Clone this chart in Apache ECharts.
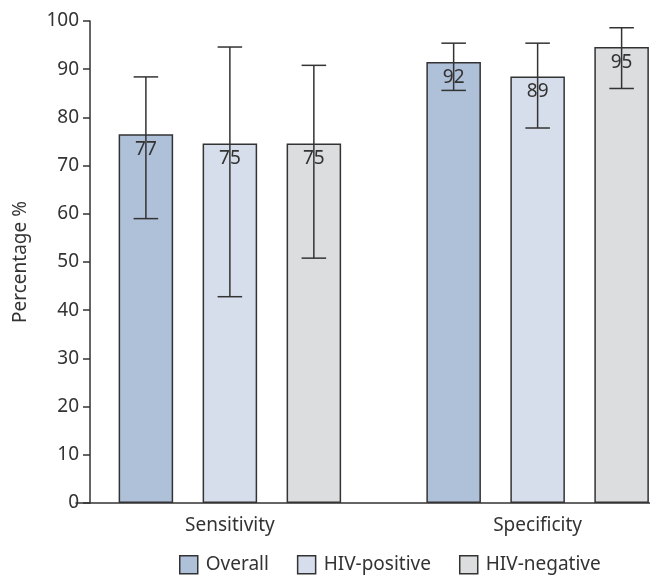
<!DOCTYPE html>
<html>
<head>
<meta charset="utf-8">
<script src="https://cdn.jsdelivr.net/npm/echarts@6/dist/echarts.min.js"></script>
<style>html,body{margin:0;padding:0;background:#fff}#c{width:650px;height:575px}</style>
</head>
<body>
<div id="c"></div>
<script>
var categories = ['Sensitivity', 'Specificity'];
var seriesNames = ['Overall', 'HIV-positive', 'HIV-negative'];
var overall = [76.5, 91.5];
var hivPositive = [74.6, 88.5];
var hivNegative = [74.6, 94.6];
var overallLow = [59.0, 85.6];
var overallHigh = [88.4, 95.4];
var hivPositiveLow = [42.8, 77.8];
var hivPositiveHigh = [94.6, 95.4];
var hivNegativeLow = [50.8, 86.0];
var hivNegativeHigh = [90.8, 98.6];
var yTicks = [0, 10, 20, 30, 40, 50, 60, 70, 80, 90, 100];

var colors = ['#afc0d9', '#d7deeb', '#dcdddf'];
var FONT = '"Noto Sans", sans-serif';
var FS = 19;
var CAT_GAP = 0.277, BAR_GAP = 0.54;

var values = [overall, hivPositive, hivNegative];
var lows = [overallLow, hivPositiveLow, hivNegativeLow];
var highs = [overallHigh, hivPositiveHigh, hivNegativeHigh];

var errData = [];
for (var s = 0; s < 3; s++) {
  for (var c = 0; c < categories.length; c++) {
    errData.push([c, lows[s][c], highs[s][c], s]);
  }
}

var barSeries = seriesNames.map(function (name, i) {
  return {
    name: name,
    type: 'bar',
    data: values[i],
    barGap: (BAR_GAP * 100) + '%',
    barCategoryGap: (CAT_GAP * 100) + '%',
    itemStyle: { color: colors[i], borderColor: '#333', borderWidth: 1.5 },
    label: {
      show: true, position: 'insideTop', distance: 6,
      color: '#333', fontSize: FS, fontFamily: FONT,
      formatter: function (p) { return Math.round(p.value); }
    },
    z: 2
  };
});

var errSeries = {
  type: 'custom',
  name: 'err',
  data: errData,
  z: 5,
  silent: true,
  renderItem: function (params, api) {
    var cat = api.value(0), lo = api.value(1), hi = api.value(2), s = api.value(3);
    var band = api.size([1, 0])[0];
    var bw = band * (1 - CAT_GAP) / (3 + 2 * BAR_GAP);
    var total = 3 * bw + 2 * BAR_GAP * bw;
    var center = api.coord([cat, 0])[0];
    var x = center - total / 2 + s * bw * (1 + BAR_GAP) + bw / 2;
    var yLo = api.coord([cat, lo])[1];
    var yHi = api.coord([cat, hi])[1];
    var cap = bw * 0.45 / 2;
    var st = { stroke: '#333', lineWidth: 1.5 };
    return {
      type: 'group',
      children: [
        { type: 'line', shape: { x1: x, y1: yLo, x2: x, y2: yHi }, style: st },
        { type: 'line', shape: { x1: x - cap, y1: yHi, x2: x + cap, y2: yHi }, style: st },
        { type: 'line', shape: { x1: x - cap, y1: yLo, x2: x + cap, y2: yLo }, style: st }
      ]
    };
  }
};

var chart = echarts.init(document.getElementById('c'), null, { renderer: 'canvas' });
chart.setOption({
  animation: false,
  textStyle: { fontFamily: FONT },
  grid: { left: 76, right: -41.5, top: 21, bottom: 72, containLabel: false, outerBoundsMode: 'none' },
  legend: {
    data: seriesNames,
    left: 179, top: 555, padding: 0,
    itemWidth: 18, itemHeight: 18, itemGap: 28,
    icon: 'rect',
    itemStyle: { borderColor: '#333', borderWidth: 1.5 },
    textStyle: { fontSize: FS, color: '#333', fontFamily: FONT, padding: [0, 0, 0, 3] }
  },
  xAxis: {
    type: 'category',
    data: categories,
    axisLine: { lineStyle: { color: '#333', width: 1.5 } },
    axisTick: { alignWithLabel: true, length: 6, lineStyle: { color: '#333', width: 1.5 } },
    axisLabel: { color: '#333', fontSize: FS, fontFamily: FONT, margin: 13 }
  },
  yAxis: {
    type: 'value',
    min: yTicks[0], max: yTicks[yTicks.length - 1], interval: 10,
    offset: -14,
    name: 'Percentage %',
    nameLocation: 'middle',
    nameGap: 60,
    nameTextStyle: { fontSize: FS, color: '#333', fontFamily: FONT },
    axisLine: { show: true, lineStyle: { color: '#333', width: 1.5 } },
    axisTick: { show: true, length: 7, lineStyle: { color: '#333', width: 1.5 } },
    axisLabel: { color: '#333', fontSize: FS, fontFamily: FONT, margin: 11 },
    splitLine: { show: false }
  },
  series: barSeries.concat([errSeries])
});
</script>
</body>
</html>
